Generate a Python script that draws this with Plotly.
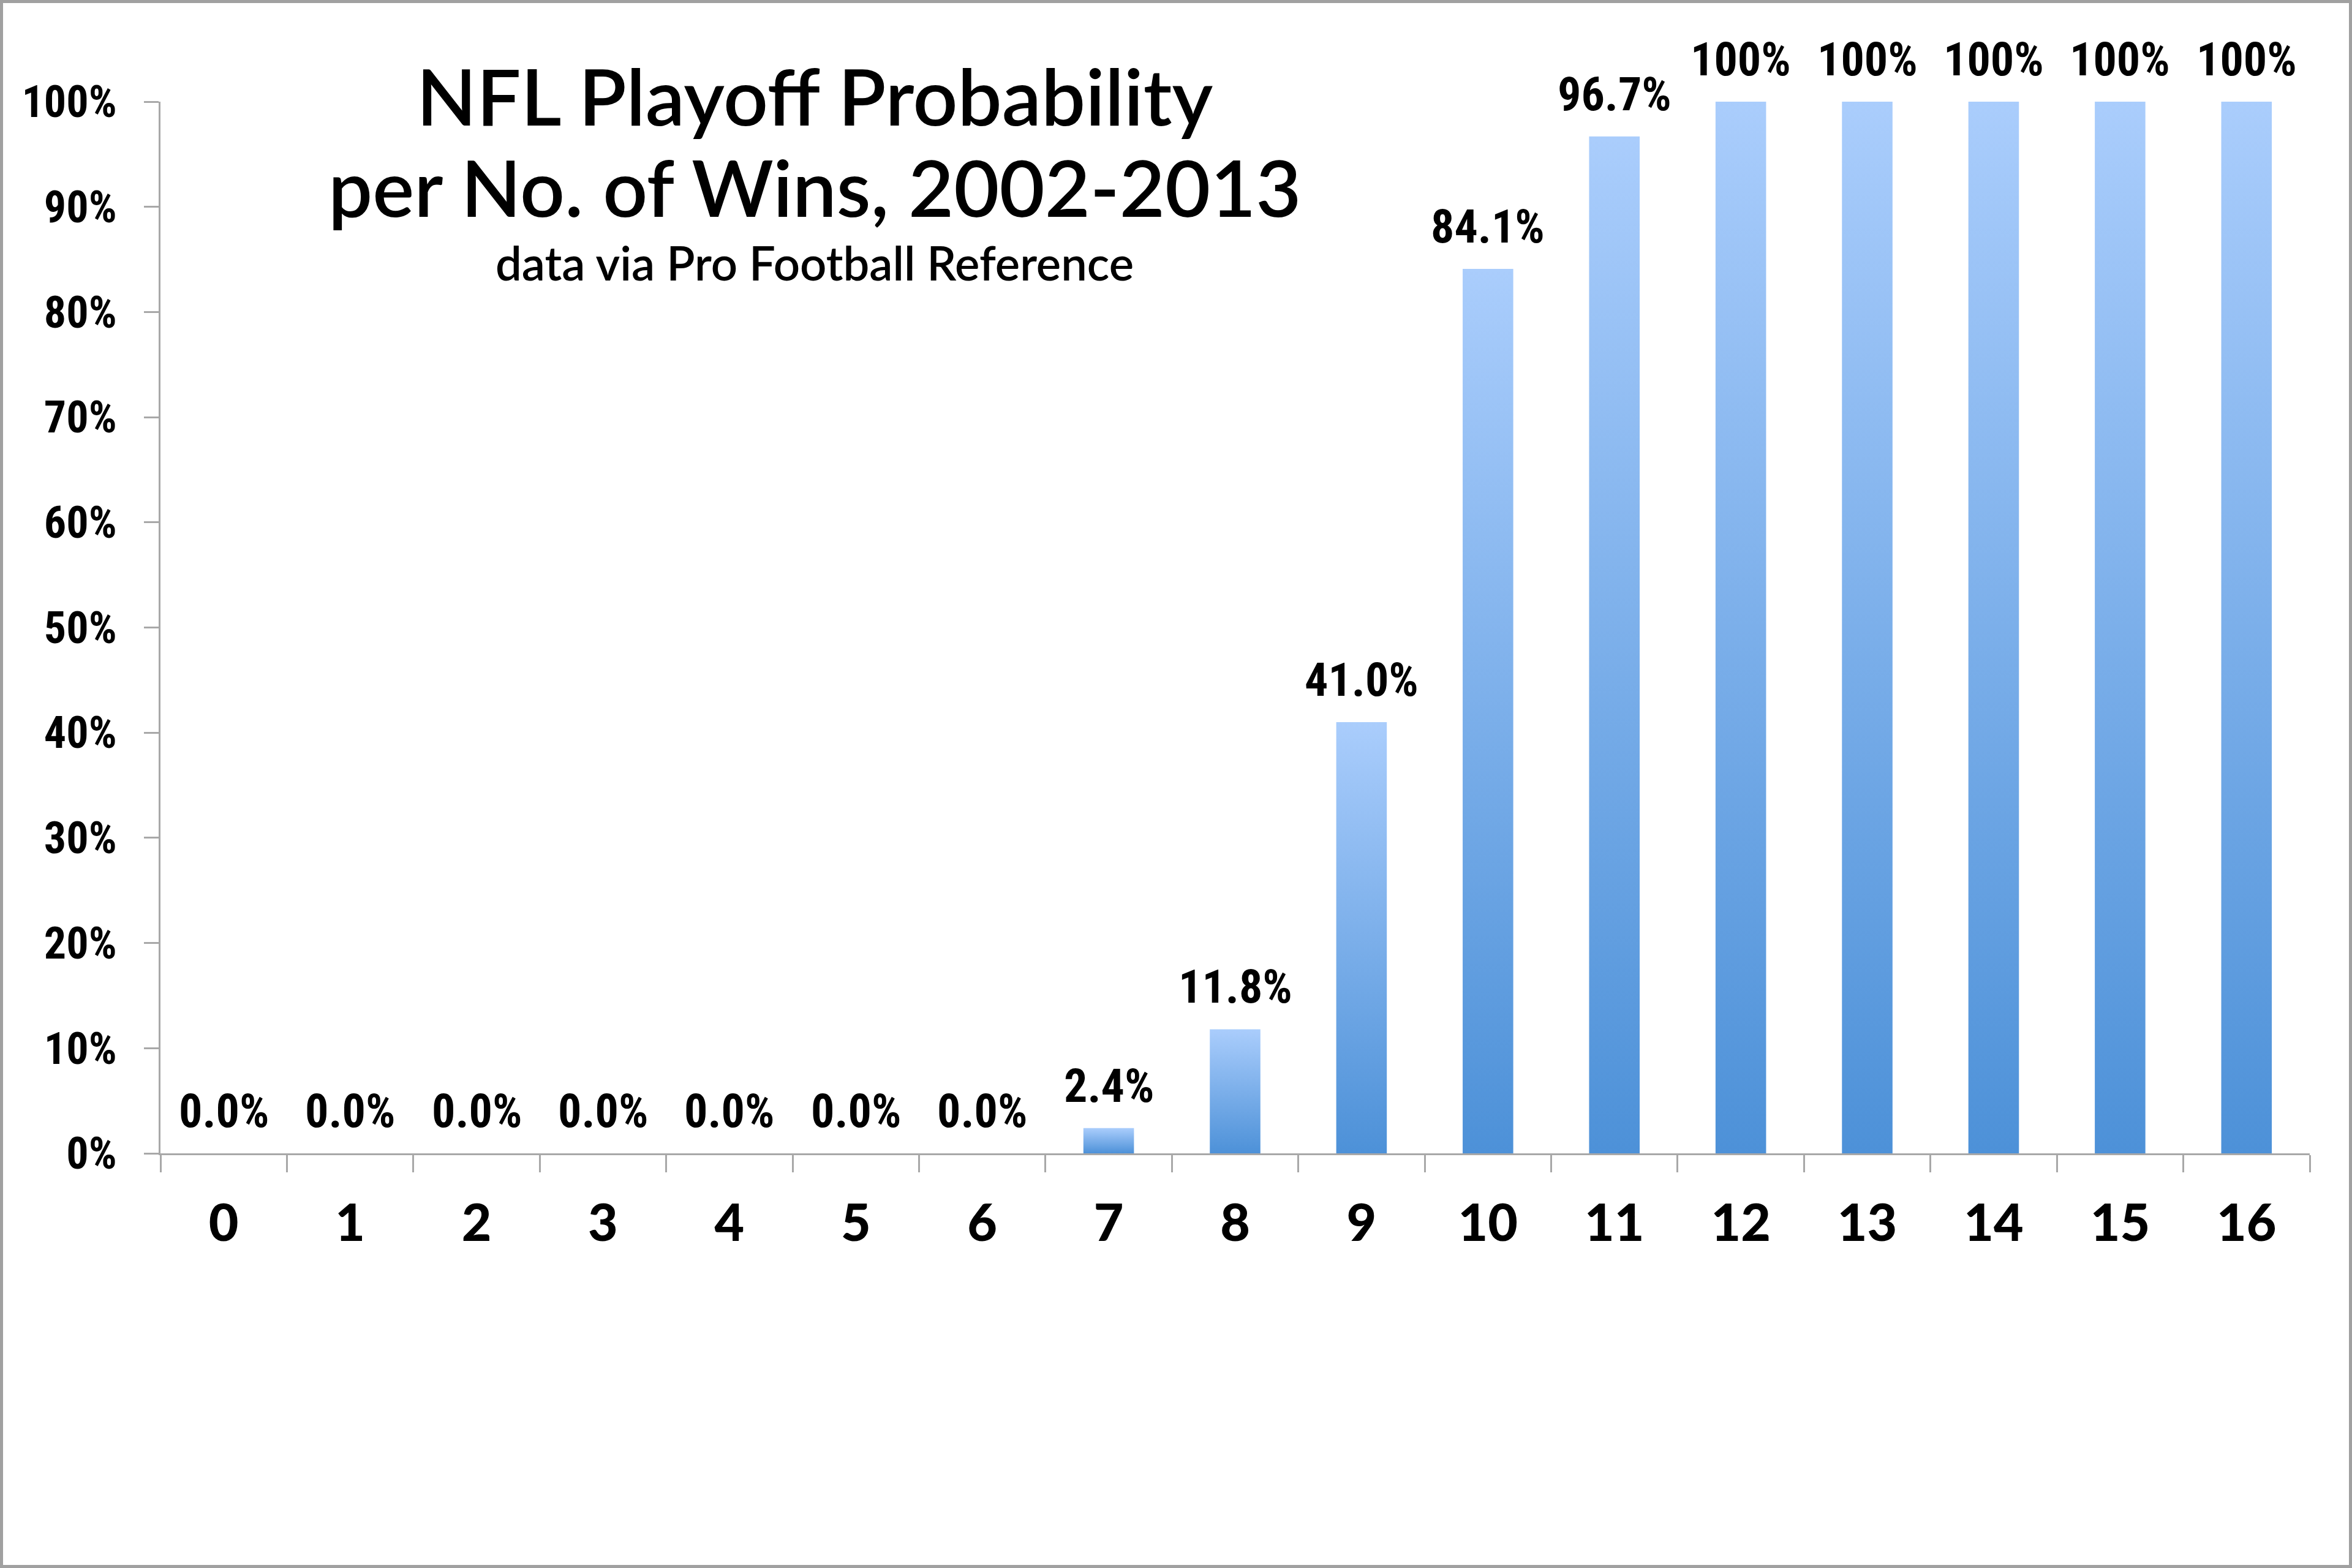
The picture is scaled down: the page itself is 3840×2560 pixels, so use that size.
import plotly.graph_objects as go

# NFL playoff probability by number of regular-season wins (2002-2013)
WINS = list(range(17))
PROB = [0.0, 0.0, 0.0, 0.0, 0.0, 0.0, 0.0, 0.024, 0.118, 0.410, 0.841, 0.967,
        1.0, 1.0, 1.0, 1.0, 1.0]
Y_TICKS = [0.0, 0.1, 0.2, 0.3, 0.4, 0.5, 0.6, 0.7, 0.8, 0.9, 1.0]

TITLE_1 = "NFL Playoff Probability"
TITLE_2 = "per No. of Wins, 2002-2013"
SUBTITLE = "data via Pro Football Reference"

W, H = 3840, 2560
M_L, M_R, M_T, M_B = 262, 69, 166, 677
BAR_W = 0.40
LIGHT = "#AACDFC"
DARK = "#4D91D8"
AXIS = "#A8A8A8"
TITLE_FONT = "Lato Semibold, Lato Medium, Lato"
XTICK_FONT = "Lato Heavy, Lato Black, Lato"
NUM_FONT = "Liberation Sans Narrow, Roboto Condensed, Roboto"


def label(v):
    if v >= 1:
        return "100%"
    return f"{v:.1%}"


fig = go.Figure()

# each bar is its own filled trace so the gradient runs top to bottom of that bar
for w, p in zip(WINS, PROB):
    if p <= 0:
        continue
    xs = [w - BAR_W / 2, w + BAR_W / 2, w + BAR_W / 2, w - BAR_W / 2, w - BAR_W / 2]
    ys = [0, 0, p, p, 0]
    fig.add_trace(go.Scatter(
        x=xs, y=ys, mode="lines", fill="toself",
        line=dict(width=0, color=DARK),
        fillgradient=dict(type="vertical", colorscale=[[0, DARK], [1, LIGHT]]),
        hoverinfo="skip", showlegend=False,
    ))

for w, p in zip(WINS, PROB):
    fig.add_annotation(
        x=w, y=p, text=label(p), showarrow=False, yanchor="middle", yshift=69,
        font=dict(family=NUM_FONT, size=76, color="black", weight="bold"),
    )

plot_w = W - M_L - M_R
plot_h = H - M_T - M_B
title_x = (1330 - M_L) / plot_w

fig.add_annotation(xref="paper", yref="paper", x=title_x, y=1.0061,
                   text=TITLE_1, showarrow=False, xanchor="center", yanchor="middle",
                   font=dict(family=TITLE_FONT, size=128, color="black"))
fig.add_annotation(xref="paper", yref="paper", x=title_x, y=0.9196,
                   text=TITLE_2, showarrow=False, xanchor="center", yanchor="middle",
                   font=dict(family=TITLE_FONT, size=128, color="black"))
fig.add_annotation(xref="paper", yref="paper", x=title_x, y=0.8474,
                   text=SUBTITLE, showarrow=False, xanchor="center", yanchor="middle",
                   font=dict(family=TITLE_FONT, size=76, color="black"))

# thin grey frame round the whole picture
fig.add_shape(type="rect", xref="paper", yref="paper",
              x0=-M_L / plot_w, x1=1 + M_R / plot_w,
              y0=-M_B / plot_h, y1=1 + M_T / plot_h,
              line=dict(color="#A0A0A0", width=10), layer="above")

fig.update_layout(
    width=W, height=H,
    margin=dict(l=M_L, r=M_R, t=M_T, b=M_B),
    paper_bgcolor="white",
    plot_bgcolor="white",
    showlegend=False,
    xaxis=dict(
        range=[-0.5, 16.5],
        tickvals=WINS,
        ticktext=[str(w) for w in WINS],
        ticks="",
        ticklabelstandoff=39,
        showgrid=False, zeroline=False,
        showline=True, linecolor=AXIS, linewidth=3,
        tickfont=dict(family=XTICK_FONT, size=84, color="black", weight="bold"),
        minor=dict(tickvals=[w - 0.5 for w in WINS] + [WINS[-1] + 0.5],
                   ticks="outside", ticklen=28, tickwidth=3, tickcolor=AXIS,
                   showgrid=False),
    ),
    yaxis=dict(
        range=[0, 1],
        tickvals=Y_TICKS,
        tickformat=".0%",
        ticks="outside", ticklen=24, tickwidth=3, tickcolor=AXIS,
        ticklabelstandoff=30,
        showgrid=False, zeroline=False,
        showline=True, linecolor=AXIS, linewidth=3,
        tickfont=dict(family=NUM_FONT, size=72, color="black", weight="bold"),
    ),
)

fig.write_html("out.html", config={"displayModeBar": False},
               post_script="document.body.style.margin = '0';")
